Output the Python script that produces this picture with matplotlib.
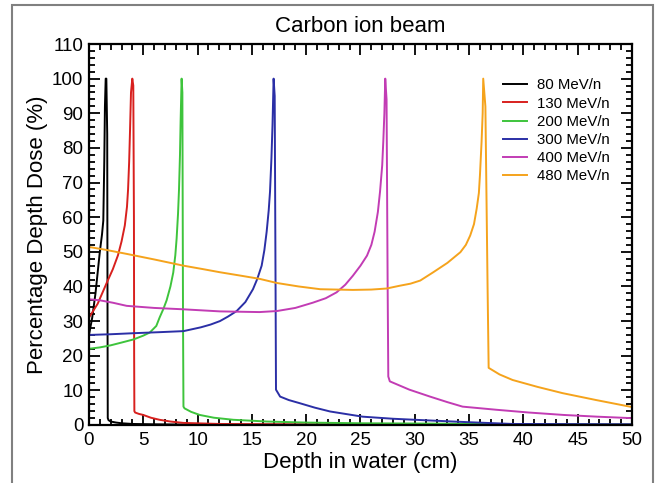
import matplotlib
matplotlib.use("Agg")
import matplotlib.pyplot as plt
from matplotlib.ticker import MultipleLocator
from matplotlib.patches import Rectangle

plt.rcParams['font.family'] = ['Liberation Sans', 'DejaVu Sans']

labels = ["80 MeV/n", "130 MeV/n", "200 MeV/n", "300 MeV/n", "400 MeV/n", "480 MeV/n"]
colors = ["#000000", "#d8201e", "#3ec43c", "#2b2fa6", "#c23cb4", "#f5a31c"]

depth_80 = [0, 0.3, 0.6, 0.8, 1.0, 1.2, 1.32, 1.41, 1.47, 1.54, 1.60, 1.68, 1.71, 1.73, 1.80, 2.0, 2.5, 3.0, 4.0, 6.0, 10.0, 50.0]
dose_80 = [26, 31, 38, 44, 50, 55, 59, 76, 92, 100, 100, 84, 30, 2.0, 1.4, 1.0, 0.7, 0.5, 0.3, 0.2, 0.1, 0.05]

depth_130 = [0, 0.8, 1.63, 2.2, 2.67, 3.0, 3.3, 3.5, 3.6, 3.7, 3.78, 3.87, 3.99, 4.08, 4.14, 4.16, 4.18, 4.25, 4.6, 5.0, 5.7, 6.5, 7.5, 8.7, 12.0, 20.0, 50.0]
dose_130 = [31, 35, 41, 45, 49, 53, 57.6, 63, 68, 76, 85, 96, 100, 98, 60, 20, 4.0, 3.6, 3.2, 2.9, 2.1, 1.5, 1.0, 0.6, 0.3, 0.15, 0.05]

depth_200 = [0, 1.0, 2.0, 3.0, 4.1, 5.0, 5.6, 6.2, 6.5, 6.85, 7.15, 7.5, 7.76, 7.95, 8.07, 8.2, 8.29, 8.38, 8.44, 8.53, 8.6, 8.66, 8.70, 8.8, 9.4, 10.2, 11.5, 13.3, 16.4, 20.0, 25.0, 50.0]
dose_200 = [22, 22.4, 23, 23.8, 24.7, 25.8, 26.7, 28.6, 31, 33.5, 36, 40, 44, 49, 53.8, 61, 68, 78, 88, 100, 96, 30, 5.3, 4.8, 3.8, 2.9, 2.1, 1.5, 1.0, 0.7, 0.5, 0.1]

depth_300 = [0, 2.0, 4.1, 6.5, 8.7, 10.3, 11.2, 12.06, 12.8, 13.6, 14.4, 15.1, 15.5, 15.9, 16.15, 16.36, 16.55, 16.67, 16.8, 16.9, 17.0, 17.1, 17.18, 17.22, 17.6, 18.4, 19.4, 20.8, 22.2, 25.2, 28.0, 31.4, 35.0, 39.0, 50.0]
dose_300 = [26, 26.2, 26.5, 26.8, 27.1, 28.2, 29, 30, 31.3, 32.9, 35.5, 39.2, 42.2, 46, 50.5, 55.8, 62, 67.4, 77, 86.7, 100, 95, 40, 10.2, 8.2, 7.2, 6.3, 5.0, 3.9, 2.4, 1.8, 1.3, 0.8, 0.3, 0.2]

depth_400 = [0, 1.0, 2.2, 3.47, 6.0, 8.7, 12.06, 15.7, 17.3, 19.0, 20.6, 21.8, 22.8, 23.6, 24.3, 25.0, 25.6, 26.0, 26.3, 26.6, 26.8, 27.0, 27.1, 27.2, 27.28, 27.4, 27.5, 27.56, 27.7, 29.5, 31.4, 33.0, 34.4, 37.5, 40.5, 43.7, 46.8, 49.8, 50.0]
dose_400 = [36.3, 36, 35.3, 34.4, 33.8, 33.4, 32.8, 32.6, 32.9, 33.8, 35.3, 36.6, 38.3, 40.5, 43.1, 46, 48.9, 52, 55.8, 61.5, 67.4, 75, 81.9, 90, 100, 94, 40, 14, 12.6, 10.2, 8.2, 6.6, 5.3, 4.4, 3.6, 2.9, 2.4, 2.0, 2.0]

depth_480 = [0, 1.5, 3.47, 6.0, 8.7, 10.5, 12.06, 14.0, 15.7, 17.3, 19.3, 21.3, 24.3, 26.0, 27.4, 28.6, 29.6, 30.5, 31.7, 33.0, 34.2, 34.7, 35.1, 35.45, 35.7, 35.9, 36.0, 36.15, 36.25, 36.3, 36.5, 36.7, 36.8, 37.8, 39.0, 41.3, 43.6, 46.7, 49.8, 50.0]
dose_480 = [51.4, 50.6, 49.4, 47.8, 46, 45, 44.1, 43.1, 42.2, 41, 40, 39.2, 39, 39.1, 39.4, 40.2, 40.8, 41.7, 44.1, 46.8, 49.9, 52, 54.7, 58, 62.5, 67, 72.2, 81.9, 90, 100, 92, 40, 16.5, 14.6, 13, 11, 9.2, 7.2, 5.3, 5.2]

depths = [depth_80, depth_130, depth_200, depth_300, depth_400, depth_480]
doses = [dose_80, dose_130, dose_200, dose_300, dose_400, dose_480]

fig = plt.figure(figsize=(6.6, 4.83), dpi=100)
ax = fig.add_axes([0.1348, 0.1201, 0.8228, 0.7888])

for d, v, c, lab in zip(depths, doses, colors, labels):
    ax.plot(d, v, color=c, lw=1.4, label=lab)

ax.set_xlim(0, 50)
ax.set_ylim(0, 110)
ax.xaxis.set_major_locator(MultipleLocator(5))
ax.xaxis.set_minor_locator(MultipleLocator(1))
ax.yaxis.set_major_locator(MultipleLocator(10))
ax.yaxis.set_minor_locator(MultipleLocator(2))
ax.tick_params(which='both', direction='in', top=True, right=True, width=1.3, colors='black')
ax.tick_params(which='major', length=8, labelsize=13.5)
ax.tick_params(axis='x', which='major', pad=5)
ax.tick_params(axis='y', which='major', pad=4)
ax.tick_params(which='minor', length=4)
for s in ax.spines.values():
    s.set_linewidth(1.6)

ax.set_title("Carbon ion beam", fontsize=16, pad=9)
ax.set_xlabel("Depth in water (cm)", fontsize=16, labelpad=2)
ax.set_ylabel("Percentage Depth Dose (%)", fontsize=16, labelpad=3)

leg = ax.legend(loc='upper right', frameon=False, fontsize=10.8, handlelength=1.6,
                labelspacing=0.28, bbox_to_anchor=(0.985, 0.945), handletextpad=0.7)

fig.patches.append(Rectangle((12/660, -0.01), (653-12)/660, (483-5)/483 + 0.01,
                             transform=fig.transFigure, fill=False,
                             edgecolor='#808080', lw=1.5))

fig.savefig("out.png", dpi=100)
